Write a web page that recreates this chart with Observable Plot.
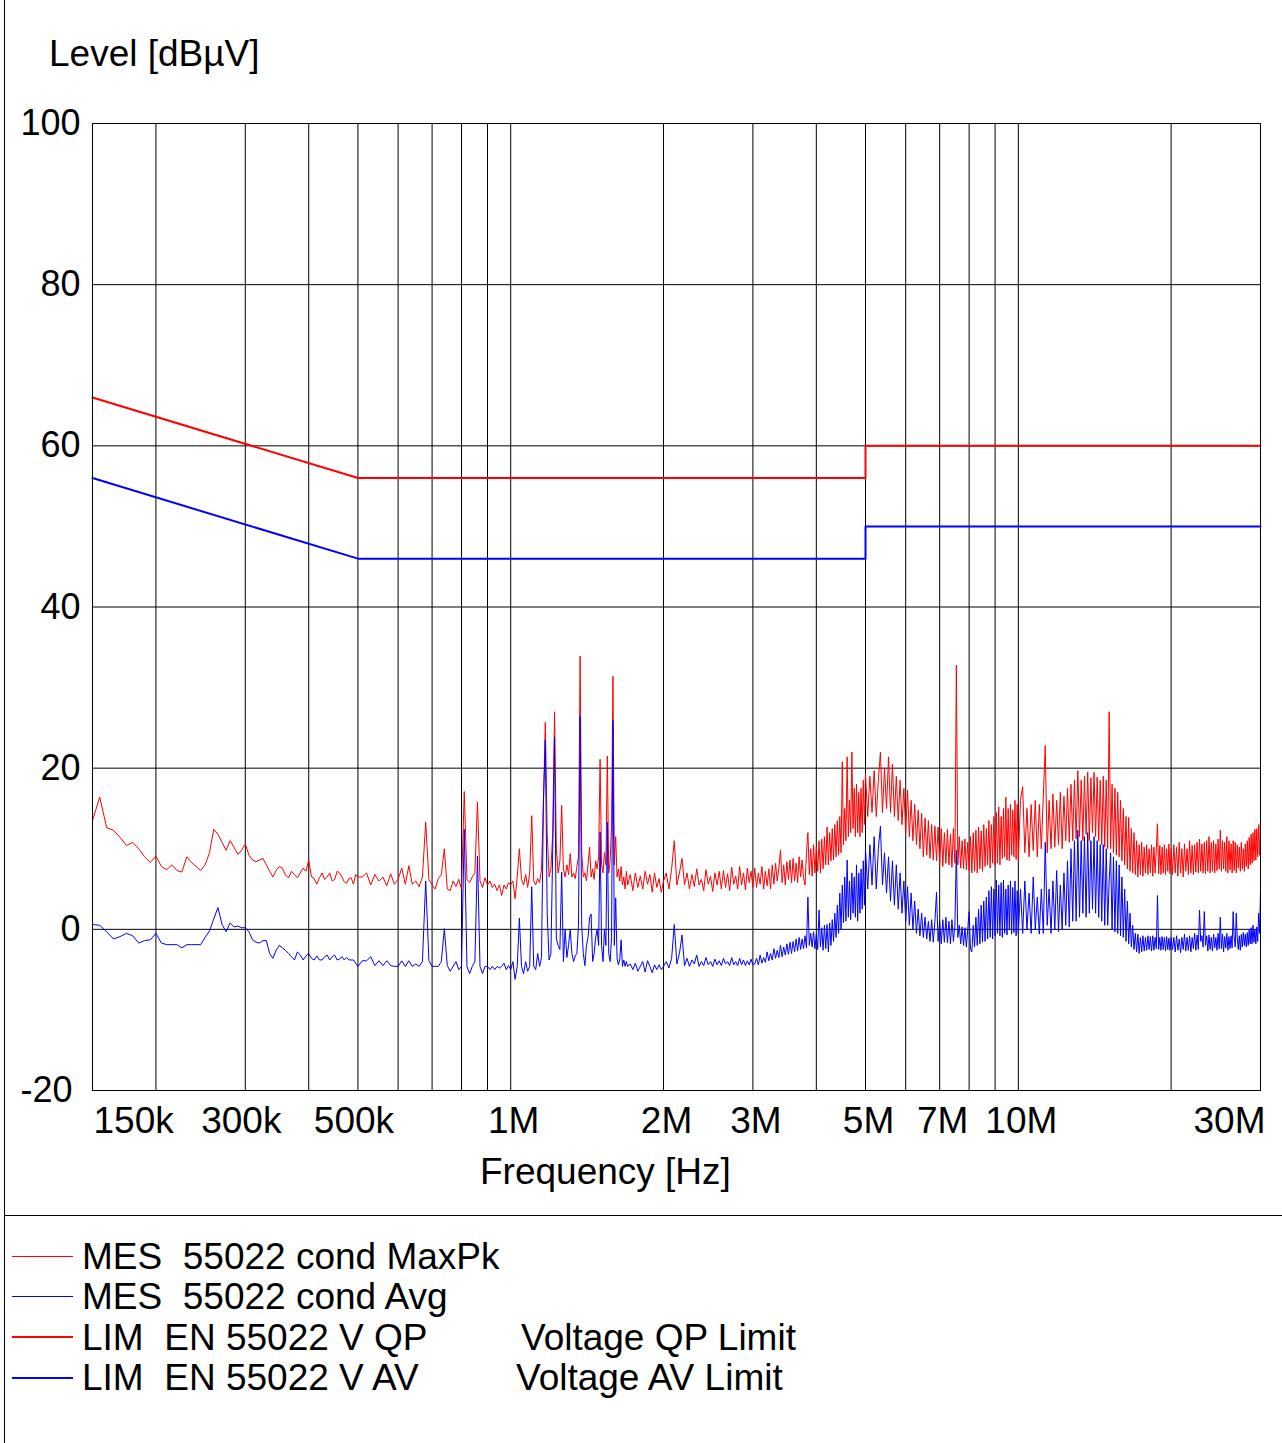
<!DOCTYPE html>
<html>
<head>
<meta charset="utf-8">
<script src="https://cdn.jsdelivr.net/npm/d3@7"></script>
<script src="https://cdn.jsdelivr.net/npm/@observablehq/plot@0.6"></script>
<style>
  html, body { margin: 0; padding: 0; background: #fff; }
  #page { position: relative; width: 1282px; height: 1443px; overflow: hidden; background: #fff;
          font-family: "Liberation Sans", Arial, sans-serif; color: #000; }
  #chart { position: absolute; left: 0; top: 0; }
  .lbl { position: absolute; font-size: 37px; line-height: 37px; white-space: pre; }
  .bar { position: absolute; background: #000; }
  .legline { position: absolute; left: 12px; width: 61px; }
</style>
</head>
<body>
<div id="page">
  <div id="chart"></div>
  <div class="bar" style="left:4px;top:0;width:1px;height:1443px"></div>
  <div class="bar" style="left:4px;top:1215px;width:1278px;height:1px"></div>
  <div class="lbl" id="ytitle" style="left:49px;top:35px"></div>
  <div class="lbl" id="xtitle" style="left:480px;top:1153px"></div>
  <div id="legend"></div>
</div>
<script>
// ---------------- data ----------------
const yTitle = "Level [dBµV]";
const xTitle = "Frequency [Hz]";

// frequency grid of the traces (kHz)
const freqs = [
  150,155,160,165,170,175,180,185,190,195,
  200,205,210,215,220,225,230,235,240,245,
  250,255,260,265,270,275,280,285,290,295,
  300,305,310,315,320,325,330,335,340,345,
  350,355,360,365,370,375,380,385,390,395,
  400,405,410,415,420,425,430,435,440,445,
  450,455,460,465,470,475,480,485,490,495,
  500,
  510,520,530,540,550,560,570,580,590,600,
  610,620,630,640,650,660,670,680,690,700,
  710,720,730,740,750,760,770,780,790,800,
  810,820,830,840,850,860,870,880,890,900,
  910,920,930,940,950,960,970,980,990,1000,
  1010,1020,1030,1040,1050,1060,1070,1080,1090,1100,
  1110,1120,1130,1140,1150,1160,1170,1180,1190,1200,
  1210,1220,1230,1240,1250,1260,1270,1280,1290,1300,
  1310,1320,1330,1340,1350,1360,1370,1380,1390,1400,
  1410,1420,1430,1440,1450,1460,1470,1480,1490,1500,
  1510,1520,1530,1540,1550,1560,1570,1580,1590,1600,
  1610,1620,1630,1640,1650,1660,1670,1680,1690,1700,
  1720,1740,1760,1780,1800,1820,1840,1860,1880,1900,1920,1940,1960,1980,2000,
  2025,2050,2075,2100,2125,2150,2175,2200,2225,2250,
  2275,2300,2325,2350,2375,2400,2425,2450,2475,2500,
  2525,2550,2575,2600,2625,2650,2675,2700,2725,2750,
  2775,2800,2825,2850,2875,2900,2925,2950,2975,3000,
  3025,3050,3075,3100,3125,3150,3175,3200,3225,3250,
  3275,3300,3325,3350,3375,3400,3425,3450,3475,3500,
  3525,3550,3575,3600,3625,3650,3675,3700,3725,3750,
  3775,3800,3825,3850,3875,3900,3925,3950,3975,4000,
  4025,4050,4075,4100,4125,4150,4175,4200,4225,4250,
  4275,4300,4325,4350,4375,4400,4425,4450,4475,4500,
  4525,4550,4575,4600,4625,4650,4675,4700,4725,4750,
  4775,4800,4825,4850,4875,4900,4925,4950,4975,5000,
  5050,5100,5150,5200,5250,5300,5350,5400,5450,5500,
  5550,5600,5650,5700,5750,5800,5850,5900,5950,6000,
  6050,6100,6150,6200,6250,6300,6350,6400,6450,6500,
  6550,6600,6650,6700,6750,6800,6850,6900,6950,7000,
  7050,7100,7150,7200,7250,7300,7350,7400,7450,7500,
  7550,7600,7650,7700,7750,7800,7850,7900,7950,8000,
  8050,8100,8150,8200,8250,8300,8350,8400,8450,8500,
  8550,8600,8650,8700,8750,8800,8850,8900,8950,9000,
  9050,9100,9150,9200,9250,9300,9350,9400,9450,9500,
  9550,9600,9650,9700,9750,9800,9850,9900,9950,10000,
  10100,10200,10300,10400,10500,10600,10700,10800,10900,11000,
  11100,11200,11300,11400,11500,11600,11700,11800,11900,12000,
  12100,12200,12300,12400,12500,12600,12700,12800,12900,13000,
  13100,13200,13300,13400,13500,13600,13700,13800,13900,14000,
  14100,14200,14300,14400,14500,14600,14700,14800,14900,15000,
  15100,15200,15300,15400,15500,15600,15700,15800,15900,16000,
  16100,16200,16300,16400,16500,16600,16700,16800,16900,17000,
  17100,17200,17300,17400,17500,17600,17700,17800,17900,18000,
  18100,18200,18300,18400,18500,18600,18700,18800,18900,19000,
  19100,19200,19300,19400,19500,19600,19700,19800,19900,20000,
  20125,20250,20375,20500,20625,20750,20875,21000,21125,21250,
  21375,21500,21625,21750,21875,22000,22125,22250,22375,22500,
  22625,22750,22875,23000,23125,23250,23375,23500,23625,23750,
  23875,24000,24125,24250,24375,24500,24625,24750,24875,25000,
  25125,25250,25375,25500,25625,25750,25875,26000,26125,26250,
  26375,26500,26625,26750,26875,27000,27125,27250,27375,27500,
  27625,27750,27875,28000,28125,28250,28375,28500,28625,28750,
  28875,29000,29125,29250,29375,29500,29625,29750,29875,30000
];

// MES 55022 cond MaxPk (dBµV)
const maxPk = [
  13.5,16.4,12.6,12.3,11.4,10.4,10.8,10.0,9.0,8.3,
  9.1,7.8,7.4,8.0,7.3,7.1,9.0,8.3,7.8,7.3,
  8.0,9.5,12.4,11.8,10.8,9.8,11.0,10.2,9.3,9.8,
  10.6,9.2,8.6,8.4,8.6,8.8,8.0,7.2,6.5,7.3,
  7.8,7.6,6.7,6.4,7.2,6.8,6.4,7.0,7.6,7.2,
  8.6,6.5,6.3,5.6,6.4,7.0,6.2,6.5,7.0,6.0,
  6.2,7.2,7.0,6.5,5.9,5.7,6.3,6.4,5.6,6.8,
  6.5,
  6.5,7.0,5.5,6.8,6.0,6.5,5.4,6.9,5.6,6.2,
  7.6,5.6,7.9,5.6,6.0,5.3,6.5,13.3,6.2,5.5,
  5.0,6.3,6.8,10.0,5.0,4.8,6.0,5.3,6.2,5.0,
  17.1,6.2,5.8,6.5,7.0,15.8,6.0,5.2,6.4,5.5,
  6.0,5.2,5.6,4.8,5.5,4.2,5.5,5.0,5.8,5.5,
  6.0,3.8,6.5,10.0,6.2,5.5,6.8,5.2,7.0,14.1,
  6.0,5.5,6.3,5.8,7.5,15.8,25.7,12.0,6.5,7.5,
  12.0,27.0,10.0,7.0,8.5,15.4,7.5,6.5,8.0,6.8,
  9.4,6.5,7.0,6.3,7.8,9.0,33.9,9.5,6.5,7.0,
  6.0,8.0,10.2,6.5,7.5,6.2,8.5,7.5,9.0,21.1,
  8.0,7.0,9.5,8.0,21.5,7.0,8.5,13.0,31.4,8.0,
  11.5,6.5,7.5,6.0,7.8,5.5,6.5,5.0,7.2,5.5,
  6.8,4.8,7.0,5.2,6.6,5.0,7.2,5.6,6.8,4.6,7.0,5.2,6.3,4.6,6.0,
  7.0,5.0,7.5,11.0,5.5,7.0,8.8,5.5,7.0,5.0,
  6.8,5.3,7.5,5.5,6.2,4.8,7.4,5.6,6.6,4.7,
  7.0,5.5,7.2,5.0,7.3,5.2,6.9,4.8,7.7,5.6,
  6.6,5.0,7.8,5.5,7.0,4.9,7.6,5.8,7.2,5.2,
  7.6,5.2,7.0,5.6,7.8,5.0,7.2,5.4,7.5,5.0,
  8.0,5.6,8.2,6.0,7.6,9.8,5.8,8.0,5.5,8.4,
  6.2,8.6,5.8,8.8,6.0,8.2,5.8,9.0,6.5,8.6,
  6.4,5.5,9.5,12.0,6.8,10.0,6.6,10.5,7.0,10.2,
  7.2,11.0,7.0,11.2,7.5,11.5,8.0,12.7,8.0,12.0,
  8.5,12.5,8.6,13.0,9.0,13.5,9.2,14.0,9.5,20.8,
  10.5,15.0,11.0,21.4,11.5,16.0,12.0,22.0,12.5,17.5,
  11.5,18.0,12.0,17.0,11.5,17.5,12.0,18.5,13.0,19.3,
  14.0,19.0,14.5,19.7,14.0,18.5,22.0,14.5,20.0,15.0,
  21.4,14.5,20.5,14.0,19.0,13.5,18.5,13.0,17.5,12.0,
  17.3,11.5,16.0,11.0,15.5,10.5,14.8,10.0,14.4,9.0,
  13.8,9.2,13.5,8.8,13.0,8.6,12.8,8.5,12.7,8.0,
  12.5,7.8,12.0,8.2,12.4,8.0,11.8,7.7,12.5,8.2,
  32.8,8.0,11.5,7.6,11.0,7.5,11.2,7.4,10.8,7.3,
  11.5,7.0,12.0,7.2,12.3,7.0,12.7,7.5,12.2,7.2,
  13.0,7.8,12.5,8.0,13.5,7.6,13.0,8.2,14.0,8.0,
  14.5,8.2,15.2,8.0,14.0,8.8,15.0,9.0,16.4,8.6,
  15.0,8.5,15.5,9.2,14.8,9.0,16.0,8.7,15.5,8.5,
  16.0,17.7,9.5,15.0,9.0,15.5,9.8,16.0,9.0,15.5,
  10.0,16.4,22.8,9.5,16.0,10.0,16.8,10.2,16.0,10.5,
  17.0,10.0,16.5,11.0,17.5,10.8,18.0,11.0,18.5,11.2,
  19.7,11.5,18.5,11.0,19.0,11.8,19.5,11.0,18.8,12.0,
  19.5,11.5,18.9,11.0,18.5,10.5,19.0,10.2,18.5,10.0,
  27.0,10.0,18.0,9.5,17.5,9.2,17.0,9.0,16.0,8.5,
  15.0,8.0,14.0,7.5,13.9,7.2,12.5,7.0,12.0,6.8,
  11.0,6.5,10.5,6.8,10.8,6.6,10.2,7.0,10.5,6.8,
  10.0,7.0,10.5,6.6,10.2,7.0,10.0,13.1,6.9,10.4,
  6.8,10.2,7.0,10.5,6.8,10.0,7.2,10.6,6.9,10.0,
  6.8,10.5,7.0,10.2,6.6,10.8,7.0,10.0,6.5,10.6,
  7.2,10.0,6.8,11.0,7.0,10.4,6.8,10.5,7.1,10.8,
  7.0,11.2,7.2,10.6,7.0,10.8,6.9,11.0,7.2,11.5,
  7.0,10.8,7.2,11.0,7.0,10.6,7.3,11.2,7.5,12.3,
  7.2,11.0,7.5,10.8,7.2,11.5,7.0,11.0,7.4,10.6,
  7.0,11.0,7.3,10.8,7.0,10.5,7.6,10.2,7.2,10.8,
  7.5,10.0,7.2,10.6,7.8,11.0,7.5,11.4,8.0,11.8,
  8.2,12.0,8.5,12.4,8.6,12.5,9.0,13.0,9.2,13.5
];

// MES 55022 cond Avg (dBµV)
const avg = [
  0.6,0.5,-0.3,-1.2,-0.9,-0.5,-0.8,-1.7,-1.4,-1.3,
  -0.5,-1.7,-1.9,-1.9,-1.9,-2.3,-1.9,-1.9,-1.9,-1.9,
  -1.0,-0.2,1.3,2.7,0.6,-0.3,0.8,0.3,0.4,0.2,
  0.2,-0.3,-1.3,-1.6,-1.7,-1.4,-1.4,-3.0,-3.6,-2.6,
  -2.0,-2.3,-2.6,-3.0,-3.4,-3.8,-2.8,-3.2,-3.8,-3.3,
  -3.0,-3.6,-3.8,-3.3,-3.8,-3.8,-3.4,-3.2,-3.8,-3.4,
  -3.2,-3.8,-3.7,-3.4,-3.8,-3.5,-3.8,-3.8,-3.8,-4.2,
  -4.6,
  -3.9,-3.9,-3.4,-4.5,-3.9,-4.5,-3.9,-4.5,-4.6,-4.6,
  -3.9,-4.6,-3.9,-4.6,-4.3,-4.6,-4.0,6.0,-3.9,-4.6,
  -4.6,-4.6,-4.0,0.1,-4.5,-5.2,-4.6,-4.0,-5.0,-4.6,
  12.4,-4.6,-5.5,-4.6,-4.0,9.1,-4.6,-5.5,-4.6,-4.6,
  -5.0,-4.6,-5.0,-4.6,-4.8,-4.6,-4.2,-5.0,-4.5,-5.0,
  -4.0,-6.2,-4.6,1.4,-4.6,-5.5,-4.0,-5.2,-4.6,5.3,
  -4.6,-5.0,-3.0,-4.6,-3.5,15.8,23.5,2.0,-3.8,-3.0,
  10.0,23.9,-1.2,-2.0,-2.5,7.1,-4.0,0.0,-3.5,-2.0,
  0.0,-3.0,-4.0,-3.3,-3.0,0.5,26.4,0.5,-3.0,-4.5,
  -2.0,-1.0,1.4,1.9,-4.0,-3.0,-1.0,0.0,-2.0,12.1,
  -2.0,-4.0,0.0,-2.0,13.3,-3.0,-4.0,-1.0,25.9,-2.0,
  3.9,-3.6,-4.4,-3.7,-1.3,-4.6,-3.8,-4.6,-4.0,-4.6,
  -4.3,-5.0,-4.2,-5.2,-4.6,-4.0,-5.3,-3.9,-4.6,-5.4,-4.4,-5.0,-4.4,-5.0,-4.6,
  -4.0,-4.8,-3.6,0.6,-4.3,-3.0,-0.7,-4.5,-3.6,-4.6,
  -3.8,-4.3,-3.2,-4.6,-4.0,-4.5,-3.5,-4.4,-4.0,-4.6,
  -3.7,-4.4,-3.9,-4.5,-3.6,-4.3,-4.0,-4.5,-3.5,-4.4,
  -4.0,-4.5,-3.6,-4.4,-3.8,-4.5,-3.9,-4.4,-3.7,-4.4,
  -4.3,-3.6,-4.4,-3.2,-4.2,-3.5,-4.1,-2.8,-3.9,-3.0,
  -3.8,-2.4,-3.6,-2.6,-3.5,-2.0,-3.4,-2.2,-3.2,-1.8,
  -3.1,-1.6,-3.0,-1.5,-2.8,-1.2,-2.7,-1.0,-2.5,-1.2,
  -2.4,-0.8,-2.3,4.0,-2.0,-0.5,-2.2,-0.3,-2.4,-0.6,
  -2.5,2.4,-2.2,0.2,-2.6,0.5,-2.4,0.6,-2.8,0.8,
  -2.0,1.2,-1.5,2.0,-1.0,3.0,-0.5,4.5,0.0,5.5,
  0.8,6.5,1.0,8.6,1.5,6.0,1.2,7.0,2.0,6.5,
  1.5,8.0,1.0,7.0,2.0,7.5,2.5,8.5,3.0,10.0,
  5.0,10.5,5.5,11.5,5.0,10.0,12.8,5.5,9.5,4.5,
  9.0,3.5,8.5,3.0,8.0,2.5,7.0,2.0,6.0,1.0,
  5.3,0.5,4.5,0.0,3.5,-0.5,2.5,-0.8,2.0,-1.0,
  1.5,-1.2,1.0,-1.5,1.2,-1.6,1.0,4.6,-1.5,1.0,
  -1.8,1.2,-1.6,1.5,-1.7,1.0,-1.8,1.2,-1.5,0.5,
  9.8,-1.0,0.5,-1.8,0.3,-2.0,0.2,-2.2,0.0,2.2,
  -2.5,-2.8,0.5,-2.2,1.5,-2.0,2.5,-1.8,3.0,-1.6,
  3.5,-1.5,4.0,-1.2,4.8,-1.0,5.3,-1.2,5.0,-0.8,
  6.1,-0.5,5.5,-0.8,5.8,-1.0,6.1,-0.5,5.0,-0.7,
  5.5,0.0,6.0,-0.6,5.2,-0.4,6.0,-0.8,4.8,-0.5,
  5.0,-0.5,6.0,0.0,4.5,-0.5,6.5,0.0,4.0,-0.6,
  5.0,-0.5,10.8,0.5,5.0,-0.5,6.0,0.0,7.3,-0.3,
  5.5,0.0,7.0,0.5,8.5,0.3,10.0,1.0,11.0,1.0,
  12.3,1.5,11.0,2.0,11.5,1.5,12.0,2.0,11.0,2.5,
  11.5,2.0,11.0,1.5,10.5,1.0,10.5,0.5,10.0,0.5,
  6.0,9.5,0.0,9.0,-0.3,8.5,-0.5,8.0,-0.8,6.5,
  -1.0,5.0,-1.5,3.5,-1.8,2.0,-2.2,0.5,-2.5,-0.5,
  -2.8,-0.6,-3.0,-1.0,-2.8,-0.8,-2.7,-1.0,-2.6,-0.8,
  -2.5,-0.9,-2.7,-0.8,-2.6,-1.0,-2.4,4.2,-2.5,-1.0,
  -2.6,-0.9,-2.5,-1.0,-2.7,-0.9,-2.5,-1.1,-2.6,-1.0,
  -2.5,-1.0,-2.8,-0.8,-2.6,-1.2,-2.9,-1.0,-2.5,-0.6,
  -2.7,-1.0,-2.6,-0.8,-2.8,-1.0,-2.4,-0.5,-2.6,-0.7,
  -2.5,2.4,-1.5,-0.8,-2.2,2.2,-2.0,-0.8,-2.7,-0.7,
  -2.5,-1.0,-2.7,-0.6,-2.3,-1.0,-2.6,-0.5,-2.4,1.5,
  -2.4,-0.6,-2.8,-0.9,-2.3,-0.5,-2.6,-0.9,-2.4,-0.8,
  -2.3,2.2,-1.0,-2.2,2.0,-1.0,-2.5,-0.8,-2.6,-0.6,
  -2.2,-0.4,-2.0,-0.6,-2.2,-0.4,-2.0,0.0,-1.8,0.2,
  -1.8,0.5,-1.6,0.0,-1.8,0.3,-1.5,2.0,-0.5,4.8
];

// EN 55022 limits
const limitFreqs = [150, 500, 5000, 5000, 30000];
const qpLimit = [66, 56, 56, 60, 60];
const avLimit = [56, 46, 46, 50, 50];

// axes
const yTicks = [-20, 0, 20, 40, 60, 80, 100];
const gridFreqs = [200,300,400,500,600,700,800,900,1000,2000,3000,4000,5000,6000,7000,8000,9000,10000,20000];
const tickFreqs = [150, 300, 500, 1000, 2000, 3000, 5000, 7000, 10000, 30000];
const tickLabels = ["150k","300k","500k","1M","2M","3M","5M","7M","10M","30M"];

// legend
const legendNames = ["MES  55022 cond MaxPk", "MES  55022 cond Avg", "LIM  EN 55022 V QP", "LIM  EN 55022 V AV"];
const legendNotes = ["", "", "Voltage QP Limit", "Voltage AV Limit"];

// ---------------- drawing ----------------
if (freqs.length !== maxPk.length || freqs.length !== avg.length) {
  console.error("length mismatch", freqs.length, maxPk.length, avg.length);
}
const RED = "#ff0000", BLUE = "#0000ff";
const traces = freqs.map((f, i) => ({f, pk: maxPk[i], av: avg[i]}));
const limits = limitFreqs.map((f, i) => ({f, qp: qpLimit[i], av: avLimit[i]}));
const idx = tickLabels.map((_, i) => i);
const first = [0], last = [tickLabels.length - 1];
const kMid = idx.filter(i => i > 0 && i < tickLabels.length - 1 && tickLabels[i].endsWith("k"));
const mMid = idx.filter(i => i > 0 && i < tickLabels.length - 1 && tickLabels[i].endsWith("M"));
const FONT = '"Liberation Sans", Arial, sans-serif';
const tickText = (ix, opts) => Plot.text(ix, {x: i => tickFreqs[i], text: i => tickLabels[i],
  frameAnchor: "bottom", lineAnchor: "top", dy: 16, fontSize: 37, fill: "black", ...opts});

const chart = Plot.plot({
  width: 1282, height: 1215,
  marginTop: 123, marginLeft: 92, marginRight: 22, marginBottom: 125,
  x: {type: "log", domain: [150, 30000], axis: null},
  y: {domain: [-20, 100], axis: null},
  style: {fontFamily: FONT, fontSize: "36px", background: "white", color: "black", overflow: "visible"},
  marks: [
    Plot.ruleX(gridFreqs, {x: d => d, stroke: "black", strokeWidth: 1}),
    Plot.ruleY(yTicks, {y: d => d, stroke: "black", strokeWidth: 1}),
    Plot.line(traces, {x: "f", y: "pk", stroke: RED, strokeWidth: 1}),
    Plot.line(traces, {x: "f", y: "av", stroke: BLUE, strokeWidth: 1}),
    Plot.line(limits, {x: "f", y: "qp", stroke: RED, strokeWidth: 2}),
    Plot.line(limits, {x: "f", y: "av", stroke: BLUE, strokeWidth: 2}),
    Plot.frame({stroke: "black", strokeWidth: 1}),
    Plot.text(yTicks.filter(d => d >= 0), {y: d => d, text: d => String(d), frameAnchor: "left",
      textAnchor: "end", dx: -12, fontSize: 36, fill: "black"}),
    Plot.text(yTicks.filter(d => d < 0), {y: d => d, text: d => String(d), frameAnchor: "left",
      textAnchor: "end", dx: -20, fontSize: 36, fill: "black"}),
    tickText(first, {textAnchor: "start", dx: 1}),
    tickText(kMid, {textAnchor: "middle", dx: -4}),
    tickText(mMid, {textAnchor: "middle", dx: 3}),
    tickText(last, {textAnchor: "end", dx: 5})
  ]
});
document.getElementById("chart").appendChild(chart);
document.getElementById("ytitle").textContent = yTitle;
document.getElementById("xtitle").textContent = xTitle;

// legend
const legend = document.getElementById("legend");
const legColors = [RED, BLUE, RED, BLUE];
const legWidths = [1, 1, 2, 2];
const noteLeft = [0, 0, 521, 516];
legendNames.forEach((name, i) => {
  const cy = 1256 + i * 40.5;
  const ln = document.createElement("div");
  ln.className = "legline";
  ln.style.top = (cy - legWidths[i] / 2) + "px";
  ln.style.height = legWidths[i] + "px";
  ln.style.background = legColors[i];
  legend.appendChild(ln);
  const t = document.createElement("div");
  t.className = "lbl";
  t.style.left = "82px";
  t.style.top = (cy - 18.5) + "px";
  t.textContent = name;
  legend.appendChild(t);
  if (legendNotes[i]) {
    const n = document.createElement("div");
    n.className = "lbl";
    n.style.left = noteLeft[i] + "px";
    n.style.top = (cy - 18.5) + "px";
    n.textContent = legendNotes[i];
    legend.appendChild(n);
  }
});
</script>
</body>
</html>
